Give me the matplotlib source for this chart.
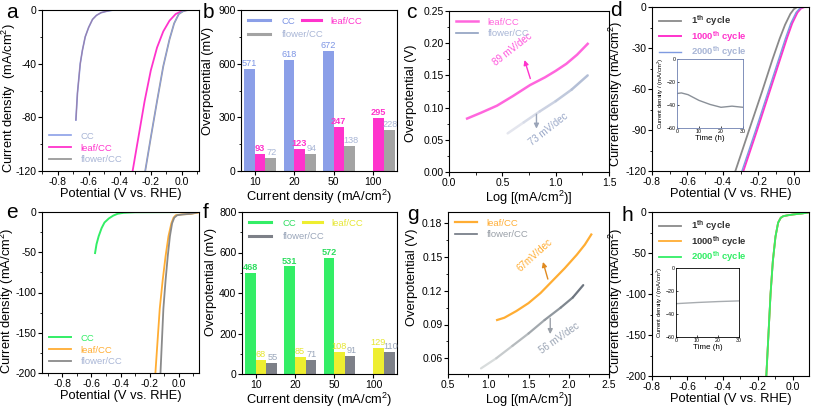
import matplotlib
matplotlib.use('Agg')
import matplotlib.pyplot as plt
import numpy as np
from matplotlib.ticker import AutoMinorLocator
from matplotlib.collections import LineCollection
from matplotlib.colors import LinearSegmentedColormap
from matplotlib.lines import Line2D

plt.rcParams['font.family'] = ['Liberation Sans', 'DejaVu Sans']
plt.rcParams['mathtext.fontset'] = 'custom'
plt.rcParams['mathtext.rm'] = 'Liberation Sans'
plt.rcParams['mathtext.bf'] = 'Liberation Sans:bold'

# ---------------- data ----------------
# panel a (LSV, V vs RHE, mA/cm2)
a_cc_x = [-0.682, -0.672, -0.654, -0.64, -0.622, -0.60, -0.575, -0.55, -0.52, -0.48, -0.44, 0.11]
a_cc_y = [-82, -62, -40, -30, -20, -13, -7, -4, -2, -0.8, 0, 0]
a_leaf_x = [-0.317, -0.28, -0.24, -0.20, -0.16, -0.12, -0.08, -0.04, 0.0, 0.03, 0.11]
a_leaf_y = [-120, -95, -68, -45, -28, -16, -8, -3, -0.8, 0, 0]
a_flower_x = [-0.236, -0.20, -0.16, -0.12, -0.08, -0.05, -0.02, 0.01, 0.04, 0.11]
a_flower_y = [-120, -95, -68, -42, -22, -10, -3, -0.8, 0, 0]

# panel b (overpotential bars)
b_categories = ['10', '20', '50', '100']
b_cc = [571, 618, 672, 0]
b_leaf = [93, 123, 247, 295]
b_flower = [72, 94, 138, 228]
b_cc_labels = ['571', '618', '672', '']
b_leaf_labels = ['93', '123', '247', '295']
b_flower_labels = ['72', '94', '138', '228']

# panel c (Tafel)
c_leaf_x = [0.17, 0.3, 0.45, 0.6, 0.76, 0.9, 1.0, 1.1, 1.2, 1.3]
c_leaf_y = [0.083, 0.092, 0.103, 0.118, 0.135, 0.147, 0.157, 0.168, 0.182, 0.199]
c_flower_x = [0.55, 0.7, 0.85, 1.0, 1.15, 1.3]
c_flower_y = [0.060, 0.077, 0.094, 0.110, 0.128, 0.150]

# panel d (cycling)
d_c1_x = [-0.33, -0.25, -0.18, -0.12, -0.08, -0.05, -0.02, 0.0, 0.02, 0.08]
d_c1_y = [-120, -89, -62, -38, -23, -13, -5, -1.5, 0, 0]
d_c1000_x = [-0.285, -0.21, -0.14, -0.08, -0.04, -0.01, 0.02, 0.04, 0.06, 0.08]
d_c1000_y = [-120, -91, -63, -39, -23, -12, -4, -1, 0, 0]
d_c2000_x = [-0.293, -0.218, -0.148, -0.088, -0.048, -0.018, 0.012, 0.032, 0.052, 0.08]
d_c2000_y = [-120, -91, -63, -39, -23, -12, -4, -1, 0, 0]
d_inset_t = [0, 2, 5, 10, 15, 20, 25, 30]
d_inset_j = [-30, -29.5, -31, -36, -39.5, -42, -41, -42]

# panel e
e_cc_x = [-0.575, -0.565, -0.55, -0.53, -0.51, -0.48, -0.45, -0.42, -0.38, -0.3, 0.14]
e_cc_y = [-51, -40, -30, -20, -13, -8, -4.5, -2.2, -1, -0.3, 0]
e_leaf_x = [-0.16, -0.145, -0.13, -0.11, -0.09, -0.07, -0.05, -0.035, -0.02, 0.02, 0.08, 0.14]
e_leaf_y = [-200, -160, -120, -85, -55, -30, -14, -7, -4, -3, -2.5, -0.5]
e_flower_x = [-0.125, -0.115, -0.105, -0.09, -0.075, -0.06, -0.045, -0.03, -0.01, 0.03, 0.09, 0.14]
e_flower_y = [-200, -160, -120, -85, -55, -30, -14, -7, -4, -3, -2, 0]

# panel f
f_categories = ['10', '20', '50', '100']
f_cc = [498, 531, 572, 0]
f_leaf = [68, 85, 108, 129]
f_flower = [55, 71, 91, 110]
f_cc_labels = ['468', '531', '572', '']
f_leaf_labels = ['68', '85', '108', '129']
f_flower_labels = ['55', '71', '91', '110']

# panel g
g_leaf_x = [1.11, 1.2, 1.35, 1.5, 1.65, 1.8, 1.95, 2.1, 2.2, 2.28]
g_leaf_y = [0.094, 0.096, 0.102, 0.109, 0.118, 0.129, 0.140, 0.152, 0.161, 0.170]
g_flower_x = [0.91, 1.1, 1.3, 1.5, 1.7, 1.9, 2.05, 2.18]
g_flower_y = [0.051, 0.060, 0.071, 0.082, 0.094, 0.105, 0.114, 0.125]

# panel h
h_x = [-0.152, -0.14, -0.128, -0.115, -0.10, -0.085, -0.07, -0.055, -0.03, 0.0, 0.05, 0.09]
h_c1_y = [-200, -150, -100, -60, -30, -13, -7, -5, -4, -3, -1.8, -0.5]
h_c1000_y = [-200, -150, -100, -60, -30, -13, -7, -5, -4, -3, -1.8, -0.5]
h_c2000_y = [-200, -150, -100, -60, -30, -13, -7, -5, -4, -3, -1.8, -0.5]
h_inset_t = [0, 5, 10, 15, 20, 25, 30]
h_inset_j = [-31, -30.5, -30, -29.6, -29.2, -28.9, -28.6]

# ---------------- style ----------------
BLUE = '#8b9fe8'
MAG = '#ff33cc'
GRAY = '#9a9a9a'
GREEN = '#33ee66'
ORANGE = '#ffad33'
YELLOW = '#eeee30'
DGRAY = '#7d8088'
LBLUE = '#a9b6d6'

W, H = 813, 409
fig = plt.figure(figsize=(W / 100, H / 100), dpi=100)


def add_ax(l, t, r, b):
    return fig.add_axes([l / W, 1 - b / H, (r - l) / W, (b - t) / H])


TICK = 7.5
LAB = 9.3
LEG = 6.8


def style(ax, minor=True):
    ax.tick_params(direction='out', length=3, width=0.8, labelsize=TICK, pad=1)
    ax.tick_params(which='minor', direction='out', length=1.8, width=0.6)
    if minor:
        ax.xaxis.set_minor_locator(AutoMinorLocator(2))
        ax.yaxis.set_minor_locator(AutoMinorLocator(2))
    for s in ax.spines.values():
        s.set_linewidth(0.8)


def ylab(ax, text, x, y):
    ax.set_ylabel(text, fontsize=LAB)
    ax.yaxis.set_label_coords(x, y)


def legend(ax, colors, bold=False, spacing=0.3, **kw):
    leg = ax.legend(frameon=False, fontsize=LEG, handlelength=2.4, handletextpad=1.0,
                    borderaxespad=0.3, labelspacing=spacing, **kw)
    for t, c in zip(leg.get_texts(), colors):
        t.set_color(c)
        if bold:
            t.set_fontweight('bold')
    return leg


def grad_line(ax, x, y, c0, c1, lw=1.6):
    pts = np.column_stack([x, y])
    segs = np.stack([pts[:-1], pts[1:]], axis=1)
    cmap = LinearSegmentedColormap.from_list('g', [c0, c1])
    cols = cmap(np.linspace(0, 1, len(segs)))
    ax.add_collection(LineCollection(segs, colors=cols, linewidths=lw, capstyle='round'))


# ---------- a ----------
ax = add_ax(42, 10, 199, 171)
ax.plot(a_cc_x, a_cc_y, color=BLUE, lw=1.2, label='CC')
ax.plot(a_cc_x, a_cc_y, color='#9a7fa8', lw=0.8)
ax.plot(a_leaf_x, a_leaf_y, color=MAG, lw=1.3, label='leaf/CC')
ax.plot(a_flower_x, a_flower_y, color=GRAY, lw=1.3, label='flower/CC')
ax.plot(a_flower_x, a_flower_y, color=BLUE, lw=0.6)
ax.set_xlim(-0.9, 0.11)
ax.set_ylim(-120, 0)
ax.set_xticks([-0.8, -0.6, -0.4, -0.2, 0.0])
ax.set_yticks([-120, -80, -40, 0])
ax.set_xticklabels(['-0.8', '-0.6', '-0.4', '-0.2', '0.0'])
ax.set_yticklabels(['-120', '-80', '-40', '0'])
style(ax)
ax.set_xlabel('Potential (V vs. RHE)', fontsize=LAB, labelpad=1)
ylab(ax, 'Current density  (mA/cm$^2$)', -0.15, 0.45)
legend(ax, [LBLUE, MAG, LBLUE], loc='lower left')


# ---------- bar panels ----------
def bar_panel(ax, cats, v1, v2, v3, l1, l2, l3, c1, c2, c3, lc1, lc2, lc3, names, ymax, yt, bold1):
    x = np.arange(len(cats))
    w = 0.27
    ax.bar(x - 0.135, v1, w, color=c1)
    ax.bar(x + 0.135, v2, w, color=c2)
    ax.bar(x + 0.405, v3, w, color=c3)
    off = ymax * 0.006
    for xi, v, t in zip(x - 0.135, v1, l1):
        if t:
            ax.text(xi, v + off, t, ha='center', va='bottom', fontsize=6.6, color=lc1,
                    fontweight='bold' if bold1 else 'normal')
    for xi, v, t in zip(x + 0.135, v2, l2):
        ax.text(xi - 0.01, v + off, t, ha='center', va='bottom', fontsize=6.6, color=lc2,
                fontweight='bold' if not bold1 else 'normal')
    for xi, v, t in zip(x + 0.405, v3, l3):
        ax.text(xi + 0.03, v + off, t, ha='center', va='bottom', fontsize=6.6, color=lc3)
    ax.set_xticks(x)
    ax.set_xticklabels(cats)
    ax.set_xlim(-0.35, 3.6)
    ax.set_ylim(0, ymax)
    ax.set_yticks(yt)
    style(ax, minor=False)
    ax.yaxis.set_minor_locator(AutoMinorLocator(2))
    h1 = [Line2D([], [], color=c, lw=2.2) for c in (c1, c3)]
    leg1 = ax.legend(h1, [names[0], names[2]], frameon=False, fontsize=LEG,
                     loc='upper left', handlelength=2.4, handletextpad=1.2,
                     borderaxespad=0.3, labelspacing=0.45)
    for t, c in zip(leg1.get_texts(), [lc1, lc3]):
        t.set_color(c)
    ax.add_artist(leg1)
    leg2 = ax.legend([Line2D([], [], color=c2, lw=2.2)], [names[1]], frameon=False, fontsize=LEG,
                     loc='upper left', bbox_to_anchor=(0.35, 1.0), handlelength=2.0,
                     handletextpad=1.0, borderaxespad=0.3)
    leg2.get_texts()[0].set_color(lc2)


ax = add_ax(241, 10, 397, 171)
bar_panel(ax, b_categories, b_cc, b_leaf, b_flower, b_cc_labels, b_leaf_labels, b_flower_labels,
          BLUE, MAG, '#a3a3a3', '#7c94e4', MAG, LBLUE, ['CC', 'leaf/CC', 'flower/CC'], 900,
          [0, 300, 600, 900], False)
ylab(ax, 'Overpotential (mV)', -0.17, 0.56)
ax.set_xlabel('Current density (mA/cm$^2$)', fontsize=LAB, labelpad=1)

# ---------- c ----------
ax = add_ax(449, 11, 609, 172)
ax.plot(c_leaf_x, c_leaf_y, color='#ff66dd', lw=1.8, label='leaf/CC')
grad_line(ax, c_flower_x, c_flower_y, '#e4e6ee', '#b4bfd6', lw=1.8)
ax.plot([], [], color='#8fa0c0', lw=1.2, label='flower/CC')
ax.set_xlim(0, 1.5)
ax.set_ylim(0, 0.25)
ax.set_xticks([0.0, 0.5, 1.0, 1.5])
ax.set_yticks([0.0, 0.05, 0.10, 0.15, 0.20, 0.25])
ax.set_yticklabels(['0.00', '0.05', '0.10', '0.15', '0.20', '0.25'])
style(ax)
ax.set_xlabel('Log [(mA/cm$^2$)]', fontsize=LAB, labelpad=1)
ylab(ax, 'Overpotential (V)', -0.2, 0.49)
legend(ax, ['#ff66dd', LBLUE], loc='upper left')
ax.annotate('', xy=(0.70, 0.178), xytext=(0.77, 0.141),
            arrowprops=dict(arrowstyle='-|>', color=MAG, lw=1.0, mutation_scale=7))
ax.text(0.60, 0.19, '89 mV/dec', color='#ff55dd', fontsize=7, rotation=38, ha='center', va='center')
ax.annotate('', xy=(0.82, 0.063), xytext=(0.82, 0.094),
            arrowprops=dict(arrowstyle='-|>', color='#9aa4b8', lw=1.0, mutation_scale=7))
ax.text(0.93, 0.066, '73 mV/dec', color='#9aa8c8', fontsize=7, rotation=38, ha='center', va='center')

# ---------- d ----------
ax = add_ax(652, 7, 809, 171)
ax.plot(d_c1_x, d_c1_y, color='#8a8a8a', lw=1.3, label='1$^{\\mathbf{th}}$ cycle')
ax.plot(d_c1000_x, d_c1000_y, color=MAG, lw=1.4, label='1000$^{\\mathbf{th}}$ cycle')
ax.plot(d_c2000_x, d_c2000_y, color='#7f9ae0', lw=1.0, label='2000$^{\\mathbf{th}}$ cycle')
ax.set_xlim(-0.8, 0.085)
ax.set_ylim(-120, 0)
ax.set_xticks([-0.8, -0.6, -0.4, -0.2, 0.0])
ax.set_xticklabels(['-0.8', '-0.6', '-0.4', '-0.2', '0.0'])
ax.set_yticks([-120, -90, -60, -30, 0])
ax.set_yticklabels(['-120', '-90', '-60', '-30', '0'])
style(ax)
ax.set_xlabel('Potential (V vs. RHE)', fontsize=LAB, labelpad=1)
ylab(ax, 'Current density (mA/cm$^2$)', -0.172, 0.47)
legend(ax, ['#333333', MAG, LBLUE], bold=True, spacing=0.1, loc='upper left')

ia = add_ax(677, 59, 743, 128)
ia.plot(d_inset_t, d_inset_j, color='#8a9098', lw=1.0)
ia.set_xlim(0, 30)
ia.set_ylim(-60, 0)
ia.set_xticks([0, 10, 20, 30])
ia.set_yticks([-60, -40, -20, 0])
ia.tick_params(direction='in', length=1.5, width=0.5, labelsize=3.8, pad=1)
for s in ia.spines.values():
    s.set_linewidth(0.6)
    s.set_color('#6d7fb0')
ia.set_xlabel('Time (h)', fontsize=5.8, labelpad=0.5)
ia.set_ylabel('Current density / (mA/cm$^2$)', fontsize=4.2, labelpad=0.5)

# ---------- e ----------
ax = add_ax(42, 212, 199, 373)
ax.plot(e_cc_x, e_cc_y, color=GREEN, lw=1.4, label='CC')
ax.plot(e_leaf_x, e_leaf_y, color=ORANGE, lw=1.3, label='leaf/CC')
ax.plot(e_flower_x, e_flower_y, color='#8a8a8a', lw=1.3, label='flower/CC')
ax.set_xlim(-0.94, 0.14)
ax.set_ylim(-200, 0)
ax.set_xticks([-0.8, -0.6, -0.4, -0.2, 0.0])
ax.set_xticklabels(['-0.8', '-0.6', '-0.4', '-0.2', '0.0'])
ax.set_yticks([-200, -150, -100, -50, 0])
ax.set_yticklabels(['-200', '-150', '-100', '-50', '0'])
style(ax)
ax.set_xlabel('Potential (V vs. RHE)', fontsize=LAB, labelpad=1)
ylab(ax, 'Current density (mA/cm$^2$)', -0.163, 0.45)
legend(ax, [GREEN, ORANGE, LBLUE], loc='lower left')

# ---------- f ----------
ax = add_ax(242, 212, 397, 374)
bar_panel(ax, f_categories, f_cc, f_leaf, f_flower, f_cc_labels, f_leaf_labels, f_flower_labels,
          GREEN, YELLOW, DGRAY, '#2fdd60', '#e6e630', '#9aa6ba', ['CC', 'leaf/CC', 'flower/CC'], 800,
          [0, 200, 400, 600, 800], True)
ylab(ax, 'Overpotential (mV)', -0.162, 0.57)
ax.set_xlabel('Current density (mA/cm$^2$)', fontsize=LAB, labelpad=1)

# ---------- g ----------
ax = add_ax(448, 212, 609, 374)
ax.plot(g_leaf_x, g_leaf_y, color=ORANGE, lw=1.6, label='leaf/CC')
grad_line(ax, g_flower_x, g_flower_y, '#d8dcdc', '#6e7680', lw=1.6)
ax.plot([], [], color='#6e7680', lw=1.2, label='flower/CC')
ax.set_xlim(0.5, 2.5)
ax.set_ylim(0.046, 0.19)
ax.set_xticks([0.5, 1.0, 1.5, 2.0, 2.5])
ax.set_yticks([0.06, 0.09, 0.12, 0.15, 0.18])
style(ax)
ax.set_xlabel('Log [(mA/cm$^2$)]', fontsize=LAB, labelpad=1)
ylab(ax, 'Overpotential (V)', -0.186, 0.6)
legend(ax, [ORANGE, '#9aa0a8'], loc='upper left')
ax.annotate('', xy=(1.67, 0.148), xytext=(1.75, 0.128),
            arrowprops=dict(arrowstyle='-|>', color='#e08a20', lw=1.0, mutation_scale=7))
ax.text(1.58, 0.152, '67mV/dec', color=ORANGE, fontsize=7, rotation=42, ha='center', va='center')
ax.annotate('', xy=(1.77, 0.079), xytext=(1.77, 0.098),
            arrowprops=dict(arrowstyle='-|>', color='#9aa0a8', lw=1.0, mutation_scale=7))
ax.text(1.88, 0.078, '56 mV/dec', color='#9aa4b4', fontsize=7, rotation=35, ha='center', va='center')

# ---------- h ----------
ax = add_ax(652, 212, 809, 376)
ax.plot(h_x, h_c1_y, color='#8a8a8a', lw=1.3, label='1$^{\\mathbf{th}}$ cycle')
ax.plot(h_x, h_c1000_y, color=ORANGE, lw=1.3, label='1000$^{\\mathbf{th}}$ cycle')
ax.plot(h_x, h_c2000_y, color=GREEN, lw=1.3, label='2000$^{\\mathbf{th}}$ cycle')
ax.set_xlim(-0.8, 0.09)
ax.set_ylim(-200, 0)
ax.set_xticks([-0.8, -0.6, -0.4, -0.2, 0.0])
ax.set_xticklabels(['-0.8', '-0.6', '-0.4', '-0.2', '0.0'])
ax.set_yticks([-200, -150, -100, -50, 0])
ax.set_yticklabels(['-200', '-150', '-100', '-50', '0'])
style(ax)
ax.set_xlabel('Potential (V vs. RHE)', fontsize=LAB, labelpad=1)
ylab(ax, 'Current density (mA/cm$^2$)', -0.172, 0.46)
legend(ax, ['#333333', '#333333', GREEN], bold=True, spacing=0.1, loc='upper left')

ih = add_ax(676, 268, 739, 337)
ih.plot(h_inset_t, h_inset_j, color='#a8acb0', lw=1.0)
ih.set_xlim(0, 30)
ih.set_ylim(-60, 0)
ih.set_xticks([0, 10, 20, 30])
ih.set_yticks([-60, -40, -20, 0])
ih.tick_params(direction='in', length=1.5, width=0.5, labelsize=3.8, pad=1)
for s in ih.spines.values():
    s.set_linewidth(0.6)
ih.set_xlabel('Time (h)', fontsize=5.8, labelpad=0.5)
ih.set_ylabel('Current density / (mA/cm$^2$)', fontsize=4.2, labelpad=0.5)

# ---------- panel letters ----------
for lbl, px, py in [('a', 6, 12), ('b', 203, 12), ('c', 406, 12), ('d', 610, 10),
                    ('e', 6, 213), ('f', 203, 213), ('g', 407, 214), ('h', 621, 215)]:
    fig.text(px / W, 1 - py / H, lbl, fontsize=15, va='center', ha='left')

fig.savefig('out.png', dpi=100)
